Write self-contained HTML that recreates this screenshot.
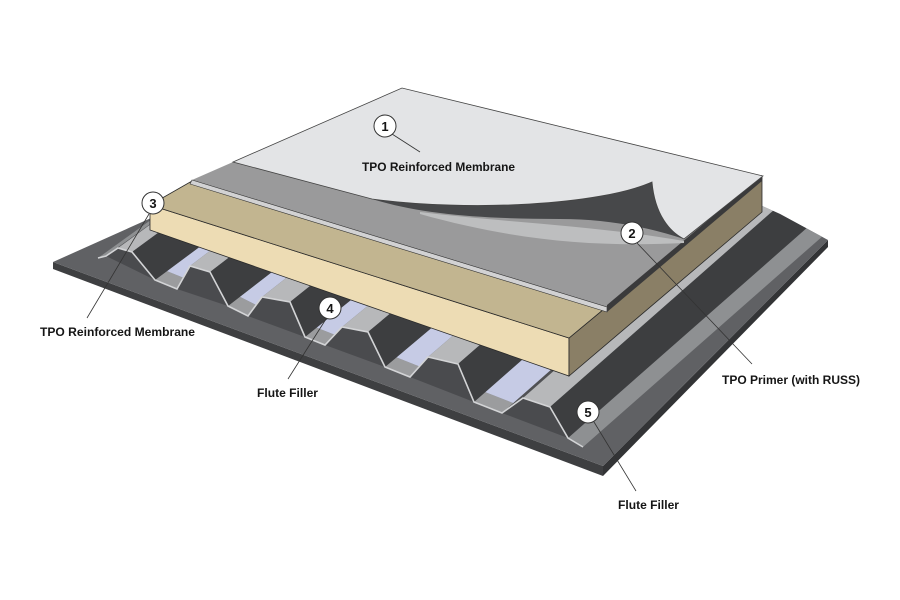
<!DOCTYPE html>
<html><head><meta charset="utf-8"><style>
html,body{margin:0;padding:0;background:#fff;width:900px;height:600px;overflow:hidden}
svg{display:block}
text{font-family:"Liberation Sans",Arial,sans-serif;font-weight:bold;fill:#151515}
</style></head><body>
<svg id="s" width="900" height="600" viewBox="0 0 900 600" xmlns="http://www.w3.org/2000/svg">
<defs><clipPath id="bc"><polygon points="53,262 160,214 600,150 760,205 780,214 828,240 603,466"/></clipPath></defs>
<!-- base slab -->
<polygon points="53,262 603,466 603,476 53,269" fill="#3e3f41"/>
<polygon points="603,466 828,240 828,247 603,476" fill="#333436"/>
<polygon points="53,262 160,214 600,150 760,205 780,214 828,240 603,466" fill="#606164"/>
<g id="deck" clip-path="url(#bc)"></g>
<!-- insulation board -->
<polygon points="150,205 569,338 569,376 150,230" fill="#eddcb4" stroke="#2a2a2a" stroke-width="0.8"/>
<polygon points="569,338 762,178 762,212 569,376" fill="#8a7f66" stroke="#2a2a2a" stroke-width="0.8"/>
<polygon points="150,205 569,338 762,178 402,90 192,181" fill="#c2b590" stroke="#2a2a2a" stroke-width="0.8"/>
<!-- gray layer -->
<polygon points="192,180 607,308 762,178 402,88" fill="#9a9a9b"/>
<polygon points="192,180 607,307 607,312 190,184" fill="#d2d2d3" stroke="#333" stroke-width="0.6"/>
<polygon points="607,305 762,175 762,181 607,312" fill="#3a3a3b"/>
<!-- light patch + curl -->
<path d="M420,212 C500,222 600,226 684,241 L684,243 C600,247 520,242 420,214 Z" fill="#bdbebf"/>
<path d="M372,199 C470,212 600,205 652,182 C655,215 670,232 684,239 C650,228 610,219 560,219 C480,219 420,214 372,199 Z" fill="#47484a"/>
<!-- white membrane -->
<path d="M233,162 L402,88 L763,176 L684,239 C670,232 655,215 652,182 C600,205 470,212 372,199 Z" fill="#e3e4e6" stroke="#444" stroke-width="0.8"/>
<!-- leaders -->
<g stroke="#333" stroke-width="0.8" fill="none">
<line x1="392" y1="134" x2="420" y2="152"/>
<line x1="637" y1="243" x2="752" y2="364"/>
<line x1="149" y1="214" x2="87" y2="318"/>
<line x1="326" y1="319" x2="288" y2="379"/>
<line x1="594" y1="422" x2="636" y2="491"/>
</g>
<g stroke="#333" stroke-width="1" fill="#fff">
<circle cx="385" cy="126" r="11"/>
<circle cx="632" cy="233" r="11"/>
<circle cx="153" cy="203" r="11"/>
<circle cx="330" cy="308" r="11"/>
<circle cx="588" cy="412" r="11"/>
</g>
<g font-size="13" text-anchor="middle">
<text x="385" y="131">1</text>
<text x="632" y="238">2</text>
<text x="153" y="208">3</text>
<text x="330" y="313">4</text>
<text x="588" y="417">5</text>
</g>
<g font-size="12">
<text x="362" y="171" textLength="153" lengthAdjust="spacingAndGlyphs">TPO Reinforced Membrane</text>
<text x="40" y="336" textLength="155" lengthAdjust="spacingAndGlyphs">TPO Reinforced Membrane</text>
<text x="257" y="397" textLength="61" lengthAdjust="spacingAndGlyphs">Flute Filler</text>
<text x="722" y="384" textLength="138" lengthAdjust="spacingAndGlyphs">TPO Primer (with RUSS)</text>
<text x="618" y="509" textLength="61" lengthAdjust="spacingAndGlyphs">Flute Filler</text>
</g>
</svg>
<script>
(function(){
var NS="http://www.w3.org/2000/svg";
var g=document.getElementById("deck");
var L=300;
function ex(p,f){
  var s=0.72+Math.max(0,Math.min(1,(p[0]-100)/380))*0.16;
  var n=Math.sqrt(1+s*s);
  return [p[0]+f*L/n,p[1]-f*L*s/n];
}
function poly(pts,col){
 var e=document.createElementNS(NS,"polygon");
 e.setAttribute("points",pts.map(function(p){return p[0].toFixed(1)+","+p[1].toFixed(1)}).join(" "));
 e.setAttribute("fill",col);
 g.appendChild(e);
}
function quad(a,b,f0,f1,col){poly([ex(a,f0),ex(b,f0),ex(b,f1),ex(a,f1)],col);}
var P=[[98,258],[106,256],[118,248],[132,252],[155,280],[177,289],[190,266],[210,272],[228,306],[248,316],[262,297],[290,302],[305,337],[325,345],[342,327],[368,332],[385,367],[410,377],[428,357],[458,364],[474,402],[502,413],[523,398],[550,407],[568,438],[583,447]];
var types=[];
for(var i=0;i<P.length-1;i++){types.push(["b","u","t","d"][i%4]);}
for(var i=0;i<types.length;i++){ if(types[i]=="b"){
  if(i>0 && i<types.length-1){quad(P[i],P[i+1],0,0.05,"#9b9c9e");quad(P[i],P[i+1],0.05,0.22,"#c6cbe5");quad(P[i],P[i+1],0.22,1.3,"#8f96aa");}
  else quad(P[i],P[i+1],0,1.3,"#8e9092");
}}
for(var i=0;i<types.length;i++){ if(types[i]=="u") quad(P[i],P[i+1],0,1.3,"#505154");}
for(var i=0;i<types.length;i++){ if(types[i]=="t") quad(P[i],P[i+1],0,1.3,"#b7b8ba");}
for(var i=0;i<types.length;i++){ if(types[i]=="d") quad(P[i],P[i+1],0,1.3,"#3d3e40");}
for(var i=0;i<types.length;i++){ if(types[i]=="u" && i+3<=P.length-1){
  poly([P[i],P[i+1],P[i+2],P[i+3]],"#4a4b4e");
}}
var pl=document.createElementNS(NS,"polyline");
pl.setAttribute("points",P.map(function(p){return p.join(",")}).join(" "));
pl.setAttribute("fill","none");pl.setAttribute("stroke","#d3d4d6");pl.setAttribute("stroke-width","1.6");
g.appendChild(pl);
})();
</script>
</body></html>
